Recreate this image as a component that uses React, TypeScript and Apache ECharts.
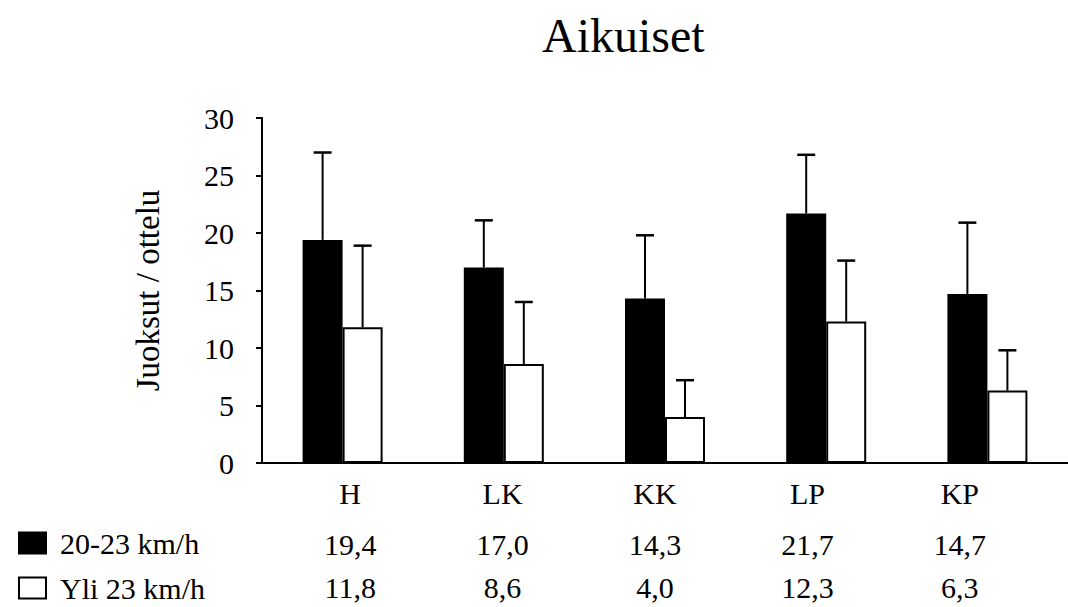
import React, { useEffect, useRef } from "react";
import * as echarts from "echarts";

const categories = ["H", "LK", "KK", "LP", "KP"];
const seriesNames = ["20-23 km/h", "Yli 23 km/h"];
const speed2023 = [19.4, 17.0, 14.3, 21.7, 14.7];
const over23 = [11.8, 8.6, 4.0, 12.3, 6.3];
const speed2023ErrTop = [27.0, 21.1, 19.8, 26.8, 20.9];
const over23ErrTop = [18.9, 14.0, 7.2, 17.6, 9.8];

const FONT = "Liberation Serif";
const fmt = (v: number) => v.toFixed(1).replace(".", ",");
const BAR_W = 40;

function errorSeries(values: number[], tops: number[], offset: number) {
  return {
    type: "custom",
    xAxisIndex: 0,
    yAxisIndex: 0,
    z: 5,
    silent: true,
    data: values.map((v, i) => [i, v, tops[i]]),
    encode: { x: 0, y: [1, 2] },
    renderItem: (params: any, api: any) => {
      const idx = api.value(0);
      const base = api.coord([idx, api.value(1)]);
      const top = api.coord([idx, api.value(2)]);
      const x = base[0] + offset;
      return {
        type: "group",
        children: [
          {
            type: "line",
            shape: { x1: x, y1: base[1], x2: x, y2: top[1] },
            style: { stroke: "#000", lineWidth: 2 },
          },
          {
            type: "line",
            shape: { x1: x - 9, y1: top[1], x2: x + 9, y2: top[1] },
            style: { stroke: "#000", lineWidth: 2.5 },
          },
        ],
      };
    },
  };
}

export default function App() {
  const ref = useRef<HTMLDivElement>(null);
  useEffect(() => {
    if (!ref.current) return;
    const chart = echarts.init(ref.current, undefined, { renderer: "svg" });
    const labelBase = { fontFamily: FONT, fontSize: 30, color: "#000", lineHeight: 30 };
    const tableAxis = (margin: number, formatter?: (v: string, i: number) => string) => ({
      type: "category",
      gridIndex: 1,
      data: categories,
      position: "bottom",
      axisLine: { show: false },
      axisTick: { show: false },
      splitLine: { show: false },
      axisLabel: formatter ? { ...labelBase, margin, formatter } : { ...labelBase, margin },
    });
    chart.setOption({
      animation: false,
      backgroundColor: "#fff",
      title: {
        text: "Aikuiset",
        left: 537,
        top: 6,
        textStyle: { fontFamily: FONT, fontSize: 48, fontWeight: "normal", color: "#000" },
      },
      legend: {
        orient: "vertical",
        left: 13,
        top: 523,
        height: 84,
        itemWidth: 27,
        itemHeight: 21,
        itemGap: 15,
        icon: "rect",
        data: seriesNames,
        textStyle: { ...labelBase, padding: [0, 0, 0, 9] },
      },
      grid: [
        { left: 262, top: 118, width: 815, height: 345, containLabel: false },
        { left: 274, top: 118, width: 762, height: 345, containLabel: false },
      ],
      xAxis: [
        {
          type: "category",
          gridIndex: 0,
          data: categories,
          axisLine: { show: true, lineStyle: { color: "#000", width: 2 } },
          axisTick: { show: false },
          axisLabel: { show: false },
        },
        tableAxis(15),
        tableAxis(66),
        tableAxis(109),
      ].map((a: any, k: number) =>
        k === 2
          ? { ...a, axisLabel: { ...a.axisLabel, formatter: (_: string, i: number) => fmt(speed2023[i]) } }
          : k === 3
          ? { ...a, axisLabel: { ...a.axisLabel, formatter: (_: string, i: number) => fmt(over23[i]) } }
          : a
      ),
      yAxis: [
        {
          type: "value",
          gridIndex: 0,
          min: 0,
          max: 30,
          interval: 5,
          name: "Juoksut / ottelu",
          nameLocation: "middle",
          nameRotate: 90,
          nameGap: 98,
          nameTextStyle: { ...labelBase, fontSize: 33, lineHeight: 33 },
          axisLine: { show: true, lineStyle: { color: "#000", width: 2 } },
          axisTick: { show: true, inside: false, length: 6, lineStyle: { color: "#000", width: 2 } },
          axisLabel: { ...labelBase, margin: 28 },
          splitLine: { show: false },
        },
        {
          type: "value",
          gridIndex: 1,
          min: 0,
          max: 30,
          interval: 5,
          show: false,
        },
      ],
      series: [
        {
          name: seriesNames[0],
          type: "bar",
          data: speed2023,
          barWidth: BAR_W,
          barGap: "0%",
          itemStyle: { color: "#000", borderColor: "#000", borderWidth: 2 },
        },
        {
          name: seriesNames[1],
          type: "bar",
          data: over23,
          barWidth: BAR_W,
          barGap: "0%",
          itemStyle: { color: "#fff", borderColor: "#000", borderWidth: 2 },
        },
        errorSeries(speed2023, speed2023ErrTop, -BAR_W / 2),
        errorSeries(over23, over23ErrTop, BAR_W / 2),
      ],
    });
    return () => chart.dispose();
  }, []);
  return (
    <div
      ref={ref}
      style={{ position: "absolute", left: 0, top: 0, width: 1068, height: 607, overflow: "hidden" }}
    />
  );
}
